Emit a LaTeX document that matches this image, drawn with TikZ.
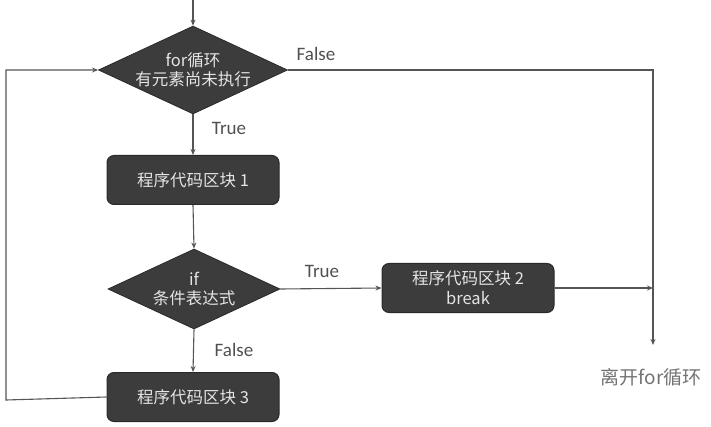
\documentclass[tikz,border=0pt]{standalone}
\usepackage{fontspec}
\setmainfont{Carlito}
\newfontfamily\cjk{Noto Sans CJK SC}
\usetikzlibrary{shapes.geometric,arrows.meta}
\definecolor{boxfill}{HTML}{3C3C3C}
\definecolor{boxline}{HTML}{2A2A2A}
\definecolor{lineclr}{HTML}{555555}
\definecolor{lblclr}{HTML}{505050}
\definecolor{txtclr}{HTML}{E4E4E4}
\tikzset{
  blockbox/.style={draw=boxline, line width=1pt, fill=boxfill, rounded corners=7pt,
    minimum width=172pt, minimum height=49pt, inner sep=0pt, align=center,
    text=txtclr, font=\cjk\fontsize{16.5}{20}\selectfont},
  decide/.style={diamond, draw=boxline, line width=0.8pt, fill=boxfill, aspect=2.15,
    minimum width=172pt, minimum height=80pt, inner sep=0pt, align=center,
    text=txtclr, font=\cjk\fontsize{16.5}{19}\selectfont},
  conn/.style={draw=lineclr, line width=1.1pt, -{Stealth[length=6pt,width=5pt]}},
  lbl/.style={text=lblclr, font=\fontsize{19}{22}\selectfont, inner sep=0pt},
  exitlbl/.style={text=lblclr!80, font=\cjk\fontsize{19}{22}\selectfont, inner sep=0pt}
}
\begin{document}
\begin{tikzpicture}[x=1pt,y=-1pt]
\useasboundingbox (0,0) rectangle (711,427);
\node[decide] (d1) at (193,70) {for循环\\有元素尚未执行};
\node[blockbox] (b1) at (193,180) {程序代码区块 1};
\node[decide] (d2) at (194,289) {if\\条件表达式};
\node[blockbox] (b2) at (468,288) {程序代码区块 2\\break};
\node[blockbox] (b3) at (193,397) {程序代码区块 3};
\coordinate (start) at (193,0);
\coordinate (corner) at (653,70);
\coordinate (exit) at (653,345);
\coordinate (loopx) at (6,400);
\node[exitlbl] (exitl) at (651,377) {离开for循环};
\node[lbl] (lf1) at (316,54) {False};
\node[lbl] (lt1) at (229,128) {True};
\node[lbl] (lt2) at (322,271) {True};
\node[lbl] (lf2) at (234,350) {False};
\draw[conn] (start) -- (d1.north);
\draw[conn] (d1.south) -- (b1.north);
\draw[conn] (b1.south) -- (d2.north);
\draw[conn] (d2.east) -- (b2.west);
\draw[conn] (d2.south) -- (b3.north);
\draw[conn] (b3.west) -- (loopx) |- (d1.west);
\draw[conn] (d1.east) -- (corner) -- (exit);
\draw[conn] (b2.east) -- (b2.east -| exit);
\end{tikzpicture}
\end{document}
